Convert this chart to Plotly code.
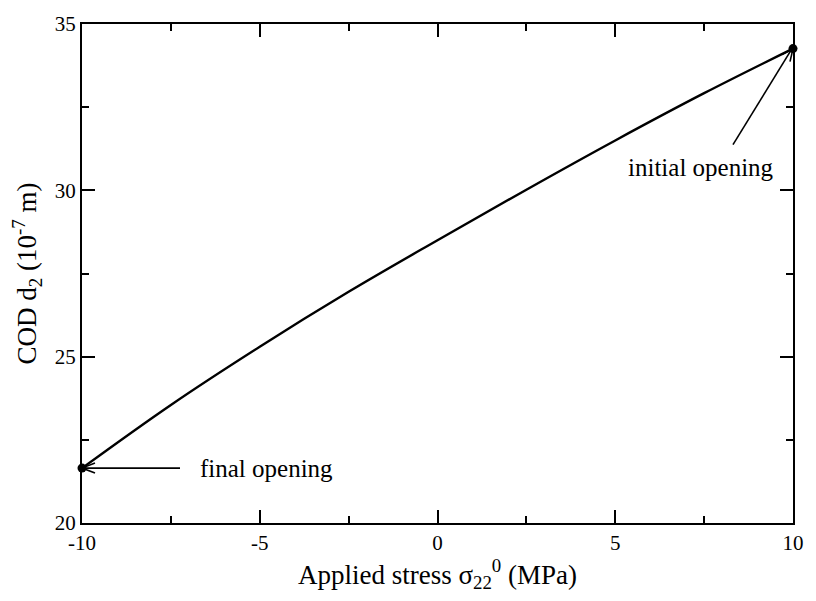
import plotly.graph_objects as go

# Crack opening displacement vs applied stress
stress = [-10, -7.5, -5, -2.5, 0, 2.5, 5, 7.5, 10]
cod = [21.65, 23.55, 25.3, 26.95, 28.5, 30.02, 31.5, 32.92, 34.26]

x_ticks = [-10, -5, 0, 5, 10]
y_ticks = [20, 25, 30, 35]

FONT = "Liberation Serif"

fig = go.Figure()
fig.add_trace(go.Scatter(
    x=stress, y=cod, mode="lines",
    line=dict(color="black", width=2.4, shape="spline"),
    hoverinfo="skip", showlegend=False,
))
# end points: final (lowest stress) and initial (highest stress) opening
fig.add_trace(go.Scatter(
    x=[stress[0], stress[-1]], y=[cod[0], cod[-1]], mode="markers",
    marker=dict(color="black", size=9),
    cliponaxis=False, hoverinfo="skip", showlegend=False,
))

axis_common = dict(
    showgrid=False, zeroline=False, showline=True, linecolor="black",
    linewidth=2, mirror="allticks", ticks="inside", ticklen=13,
    tickwidth=1.5, tickcolor="black",
    tickfont=dict(family=FONT, size=21, color="black"),
)

fig.update_xaxes(
    range=[-10, 10], tickvals=x_ticks, ticktext=[str(v) for v in x_ticks],
    minor=dict(ticks="inside", ticklen=7, tickwidth=1.5,
               tickcolor="black", dtick=2.5, tick0=0),
    title=dict(text="Applied stress σ<sub>22</sub><sup>0</sup> (MPa)",
               font=dict(family=FONT, size=27, color="black"), standoff=8),
    **axis_common,
)
fig.update_yaxes(
    range=[20, 35], tickvals=y_ticks, ticktext=[str(v) for v in y_ticks],
    minor=dict(ticks="inside", ticklen=7, tickwidth=1.5,
               tickcolor="black", dtick=2.5, tick0=0),
    title=dict(text="COD d<sub>2</sub> (10<sup>-7</sup> m)",
               font=dict(family=FONT, size=27, color="black"), standoff=10),
    **axis_common,
)

# open-headed arrows pointing at the end points
def open_arrow(xa, ya, tail, head):
    # tail / head given as pixel offsets relative to the anchor point
    shapes = [dict(type="line", xref="x", yref="y", xsizemode="pixel",
                   ysizemode="pixel", xanchor=xa, yanchor=ya,
                   x0=tail[0], y0=tail[1], x1=2 * (tail[0] > 0) - 1, y1=0,
                   line=dict(color="black", width=1.6))]
    for hx, hy in head:
        shapes.append(dict(type="line", xref="x", yref="y", xsizemode="pixel",
                           ysizemode="pixel", xanchor=xa, yanchor=ya,
                           x0=0, y0=0, x1=hx, y1=hy,
                           line=dict(color="black", width=1.6)))
    return shapes

shapes = []
shapes += open_arrow(stress[0], cod[0], (98, 0), [(13, 5), (13, -5)])
shapes += open_arrow(stress[-1], cod[-1], (-60, -96), [(-3, -13), (-11, -6)])
fig.update_layout(shapes=shapes)

fig.add_annotation(x=stress[0], y=cod[0], xref="x", yref="y",
                   text="final opening", showarrow=False,
                   xanchor="left", yanchor="middle", xshift=116,
                   font=dict(family=FONT, size=25, color="black"))
fig.add_annotation(x=stress[-1], y=cod[-1], xref="x", yref="y",
                   text="initial opening", showarrow=False,
                   xanchor="center", yanchor="middle", xshift=-92, yshift=-119,
                   font=dict(family=FONT, size=25, color="black"))

fig.update_layout(
    width=816, height=601,
    margin=dict(l=82, r=14, t=14, b=78),
    paper_bgcolor="white", plot_bgcolor="white",
    showlegend=False,
)

fig.write_html("out.html")
